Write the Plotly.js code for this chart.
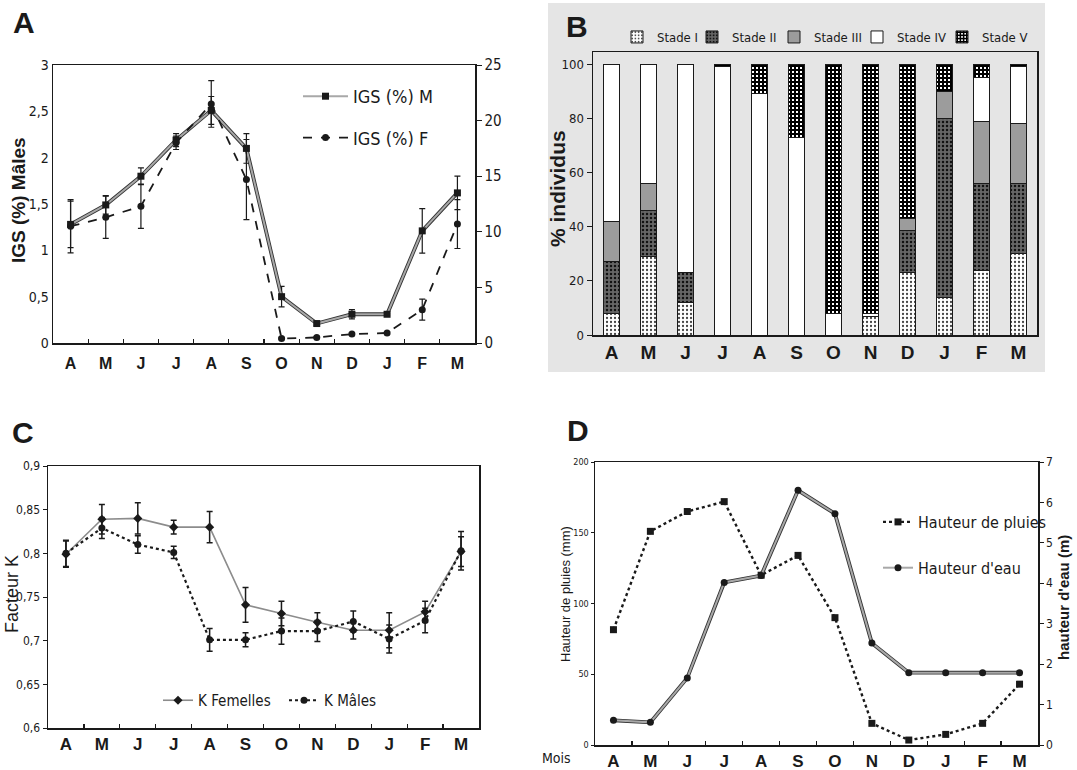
<!DOCTYPE html>
<html>
<head>
<meta charset="utf-8">
<script src="https://cdn.plot.ly/plotly-3.0.1.min.js"></script>
<style>html,body{margin:0;padding:0;background:#fff;}#chart{width:1077px;height:770px;}</style>
</head>
<body>
<div id="chart"></div>
<script>
// ---------- DATA ----------
const months = ['A','M','J','J','A','S','O','N','D','J','F','M'];

// Panel A : IGS (%)
const igsMales      = [1.28, 1.49, 1.80, 2.19, 2.51, 2.10, 0.50, 0.21, 0.31, 0.31, 1.21, 1.62];
const igsMalesErr   = [0.25, 0.10, 0.09, 0.07, 0.15, 0.16, 0.11, 0.02, 0.05, 0.01, 0.24, 0.18];
const igsFemelles   = [10.5, 11.3, 12.3, 18.0, 21.5, 14.7, 0.4, 0.5, 0.8, 0.9, 3.0, 10.7];
const igsFemellesErr= [2.4, 1.9, 2.0, 0.6, 2.1, 3.6, 0.1, 0.1, 0.1, 0.1, 0.95, 2.2];

// Panel B : maturity stages (% individus)
const stadeI   = [8, 29, 12, 0, 0, 0, 0, 7, 23, 14, 24, 30];
const stadeII  = [19, 17, 11, 0, 0, 0, 0, 0, 15.5, 66, 32, 26];
const stadeIII = [15, 10, 0, 0, 0, 0, 0, 0, 4.5, 10, 23, 22];
const stadeIV  = [58, 44, 77, 99, 89, 73, 8, 1, 0, 0, 16, 21];
const stadeV   = [0, 0, 0, 1, 11, 27, 92, 92, 57, 10, 5, 1];
const stadeNames = ['Stade I','Stade II','Stade III','Stade IV','Stade V'];

// Panel C : Facteur K
const kFemelles    = [0.799, 0.839, 0.840, 0.830, 0.830, 0.741, 0.731, 0.721, 0.712, 0.712, 0.733, 0.802];
const kFemellesErr = [0.015, 0.017, 0.018, 0.008, 0.018, 0.020, 0.014, 0.011, 0.010, 0.020, 0.012, 0.017];
const kMales       = [0.800, 0.829, 0.810, 0.801, 0.701, 0.701, 0.711, 0.711, 0.722, 0.702, 0.723, 0.803];
const kMalesErr    = [0.015, 0.012, 0.010, 0.007, 0.013, 0.008, 0.015, 0.012, 0.012, 0.016, 0.014, 0.022];
const kTickVals = [0.6, 0.65, 0.7, 0.75, 0.8, 0.85, 0.9];
const kTickText = ['0,6','0,65','0,7','0,75','0,8','0,85','0,9'];

// Panel D : pluies / hauteur d'eau
const pluies = [81.5, 151, 165, 172, 120, 134, 90, 15.3, 3.5, 7.5, 15.3, 43];
const eau    = [0.61, 0.56, 1.66, 4.02, 4.19, 6.30, 5.72, 2.52, 1.79, 1.79, 1.79, 1.79];

// ---------- LAYOUT HELPERS ----------
const W = 1077, H = 770;
const px = v => v / W;
const py = v => 1 - v / H;
const idx = months.map((_, i) => i);
const half = months.slice(0, 11).map((_, i) => i + 0.5);

const NARROW = 'DejaVu Sans Condensed, Liberation Sans Narrow, Arial Narrow, Liberation Sans, Arial, sans-serif';
const ARIAL = 'Liberation Sans, Arial, sans-serif';
const INK = '#1a1a1a';

function xAxis(d0, d1, anchor, size, minor, standoff) {
  const ax = {
    domain: [px(d0), px(d1)], anchor: anchor, range: [-0.5, 11.5],
    tickmode: 'array', tickvals: idx, ticktext: months, ticks: '',
    tickfont: {family: ARIAL, size: size, color: INK, weight: 'bold'},
    showline: true, mirror: true, linecolor: INK, linewidth: 1.5,
    showgrid: false, zeroline: false, fixedrange: true
  };
  if (standoff) ax.ticklabelstandoff = standoff;
  if (minor) ax.minor = {tickmode: 'array', tickvals: half, ticks: 'inside', ticklen: 4, tickcolor: INK, tickwidth: 1.2, showgrid: false};
  return ax;
}
function errs(arr, thick) {
  return {type: 'data', array: arr, visible: true, color: INK, thickness: thick || 1.2, width: 3};
}
// dark edge drawn under a grey line, giving the double-line look of the original
function edge(x, y, xa, ya) {
  return {x: x, y: y, type: 'scatter', mode: 'lines', xaxis: xa, yaxis: ya, showlegend: false,
    hoverinfo: 'skip', line: {color: '#333', width: 3.8}};
}

const traces = [];
// ----- A -----
traces.push(edge(idx, igsMales, 'x', 'y'));
traces.push({
  x: idx, y: igsMales, type: 'scatter', mode: 'lines+markers', name: 'IGS (%) M',
  xaxis: 'x', yaxis: 'y', legend: 'legend', legendgroup: 'a1',
  line: {color: '#a8a8a8', width: 2}, marker: {symbol: 'square', size: 7, color: INK},
  error_y: errs(igsMalesErr)
});
traces.push({
  x: idx, y: igsFemelles, type: 'scatter', mode: 'lines+markers', name: 'IGS (%) F',
  xaxis: 'x', yaxis: 'y2', legend: 'legend', legendgroup: 'a2',
  line: {color: INK, width: 1.8, dash: 'dash'}, marker: {symbol: 'circle', size: 7, color: INK},
  error_y: errs(igsFemellesErr)
});

// ----- B -----
const stadeData = [stadeI, stadeII, stadeIII, stadeIV, stadeV];
const stadeMarkers = [
  {color: '#ffffff', pattern: {shape: '.', fgcolor: '#444', bgcolor: '#ffffff', size: 4, solidity: 0.25}},
  {color: '#5a5a5a', pattern: {shape: '.', fgcolor: '#111', bgcolor: '#666666', size: 4, solidity: 0.3}},
  {color: '#9c9c9c'},
  {color: '#ffffff'},
  {color: '#ffffff', pattern: {shape: '+', fgcolor: '#000', bgcolor: '#ffffff', size: 4, solidity: 0.75}}
];
const stadeLegendX = [617, 692, 774, 857, 942];
stadeData.forEach((vals, k) => {
  const m = Object.assign({line: {color: INK, width: 1}}, stadeMarkers[k]);
  traces.push({
    x: idx, y: vals, type: 'bar', name: stadeNames[k], width: 0.42,
    xaxis: 'x2', yaxis: 'y3', legend: 'legend' + (k + 5), marker: m
  });
});

// ----- C -----
traces.push({
  x: idx, y: kFemelles, type: 'scatter', mode: 'lines+markers', name: 'K Femelles',
  xaxis: 'x3', yaxis: 'y4', legend: 'legend3',
  line: {color: '#8c8c8c', width: 1.6}, marker: {symbol: 'diamond', size: 7, color: INK},
  error_y: errs(kFemellesErr, 1.5)
});
traces.push({
  x: idx, y: kMales, type: 'scatter', mode: 'lines+markers', name: 'K Mâles',
  xaxis: 'x3', yaxis: 'y4', legend: 'legend3',
  line: {color: INK, width: 2.2, dash: 'dot'}, marker: {symbol: 'circle', size: 7, color: INK},
  error_y: errs(kMalesErr, 1.5)
});

// ----- D -----
traces.push({
  x: idx, y: pluies, type: 'scatter', mode: 'lines+markers', name: 'Hauteur de pluies',
  xaxis: 'x4', yaxis: 'y5', legend: 'legend4', legendgroup: 'd1',
  line: {color: INK, width: 2.4, dash: 'dot'}, marker: {symbol: 'square', size: 7, color: INK}
});
traces.push(edge(idx, eau, 'x4', 'y6'));
traces.push({
  x: idx, y: eau, type: 'scatter', mode: 'lines+markers', name: "Hauteur d'eau",
  xaxis: 'x4', yaxis: 'y6', legend: 'legend4', legendgroup: 'd2',
  line: {color: '#a8a8a8', width: 2}, marker: {symbol: 'circle', size: 7, color: INK}
});

const letter = (t, x, y) => ({text: '<b>' + t + '</b>', x: px(x), y: py(y), xref: 'paper', yref: 'paper',
  showarrow: false, xanchor: 'center', yanchor: 'middle', font: {family: ARIAL, size: 30, color: INK}});
const vtitle = (t, x, y, size, bold) => ({text: bold ? '<b>' + t + '</b>' : t, x: px(x), y: py(y),
  xref: 'paper', yref: 'paper', showarrow: false, textangle: -90, xanchor: 'center', yanchor: 'middle',
  font: {family: ARIAL, size: size, color: INK}});

const layout = {
  width: W, height: H, margin: {l: 0, r: 0, t: 0, b: 0},
  paper_bgcolor: '#ffffff', plot_bgcolor: 'rgba(0,0,0,0)',
  separators: ', ', barmode: 'stack', showlegend: true,
  font: {family: ARIAL, color: INK},
  // A
  xaxis: xAxis(53, 475, 'y', 16, true, 5),
  yaxis: {
    domain: [py(343), py(65)], anchor: 'x', range: [0, 3], dtick: 0.5, ticks: '',
    tickfont: {family: NARROW, size: 14, color: INK}, showline: true, linecolor: INK, linewidth: 1.5,
    showgrid: false, zeroline: false
  },
  yaxis2: {
    overlaying: 'y', side: 'right', anchor: 'x', range: [0, 25], dtick: 5, ticks: 'outside', ticklen: 5,
    tickcolor: INK, tickfont: {family: NARROW, size: 15, color: INK}, showline: true, linecolor: INK,
    linewidth: 1.5, showgrid: false, zeroline: false
  },
  // B
  xaxis2: xAxis(593, 1037, 'y3', 19, false),
  yaxis3: {
    domain: [py(335), py(52)], anchor: 'x2', range: [0, 104.5], tickvals: [0, 20, 40, 60, 80, 100],
    ticks: 'outside', ticklen: 5, tickcolor: INK, tickfont: {family: NARROW, size: 13, color: INK},
    showline: true, mirror: true, linecolor: INK, linewidth: 1.5, showgrid: false, zeroline: false
  },
  // C
  xaxis3: xAxis(48, 479, 'y4', 17, true),
  yaxis4: {
    domain: [py(728), py(466)], anchor: 'x3', range: [0.6, 0.9], tickmode: 'array',
    tickvals: kTickVals, ticktext: kTickText, ticks: 'outside', ticklen: 4, tickcolor: INK,
    tickfont: {family: NARROW, size: 12, color: INK}, showline: true, mirror: true, linecolor: INK,
    linewidth: 1.5, showgrid: false, zeroline: false
  },
  // D
  xaxis4: xAxis(595, 1038, 'y5', 17, true),
  yaxis5: {
    domain: [py(745), py(462)], anchor: 'x4', range: [0, 200], dtick: 50, ticks: 'outside', ticklen: 3,
    tickcolor: INK, tickfont: {family: NARROW, size: 9, color: INK}, showline: true, linecolor: INK,
    linewidth: 1.5, showgrid: false, zeroline: false
  },
  yaxis6: {
    overlaying: 'y5', side: 'right', anchor: 'x4', range: [0, 7], dtick: 1, ticks: 'outside', ticklen: 4,
    tickcolor: INK, tickfont: {family: NARROW, size: 12, color: INK}, showline: true, linecolor: INK,
    linewidth: 1.5, showgrid: false, zeroline: false
  },
  legend: {x: px(298), y: py(78), xanchor: 'left', yanchor: 'top', bgcolor: 'rgba(0,0,0,0)',
    font: {family: NARROW, size: 18, color: INK}, traceorder: 'grouped', tracegroupgap: 15, itemwidth: 45},
  legend3: {orientation: 'h', x: px(158), y: py(684), xanchor: 'left', yanchor: 'top', bgcolor: 'rgba(0,0,0,0)',
    font: {family: NARROW, size: 15, color: INK}, entrywidth: 81},
  legend4: {x: px(878), y: py(505), xanchor: 'left', yanchor: 'top', bgcolor: 'rgba(0,0,0,0)',
    font: {family: NARROW, size: 16, color: INK}, traceorder: 'grouped', tracegroupgap: 22},
  shapes: [{type: 'rect', xref: 'paper', yref: 'paper', x0: px(548), x1: px(1045), y0: py(372), y1: py(3),
    fillcolor: '#e5e5e5', line: {width: 0}, layer: 'below'}],
  annotations: [
    letter('A', 24, 22), letter('B', 577, 27), letter('C', 23, 432), letter('D', 578, 430),
    vtitle('IGS (%) Mâles', 19, 200, 19, true),
    vtitle('% individus', 557, 189, 21, true),
    vtitle('Facteur K', 12, 594, 18, false),
    vtitle('Hauteur de pluies (mm)', 565, 594, 13, false),
    vtitle("hauteur d'eau (m)", 1063, 598, 15, true),
    {text: 'Mois', x: px(556), y: py(758), xref: 'paper', yref: 'paper', showarrow: false,
      xanchor: 'center', yanchor: 'middle', font: {family: NARROW, size: 14, color: INK}}
  ]
};
stadeLegendX.forEach((lx, k) => {
  layout['legend' + (k + 5)] = {x: px(lx), y: py(22), xanchor: 'left', yanchor: 'top',
    bgcolor: 'rgba(0,0,0,0)', font: {family: NARROW, size: 13, color: INK}};
});

Plotly.newPlot('chart', traces, layout, {displayModeBar: false, staticPlot: true});
</script>
</body>
</html>
